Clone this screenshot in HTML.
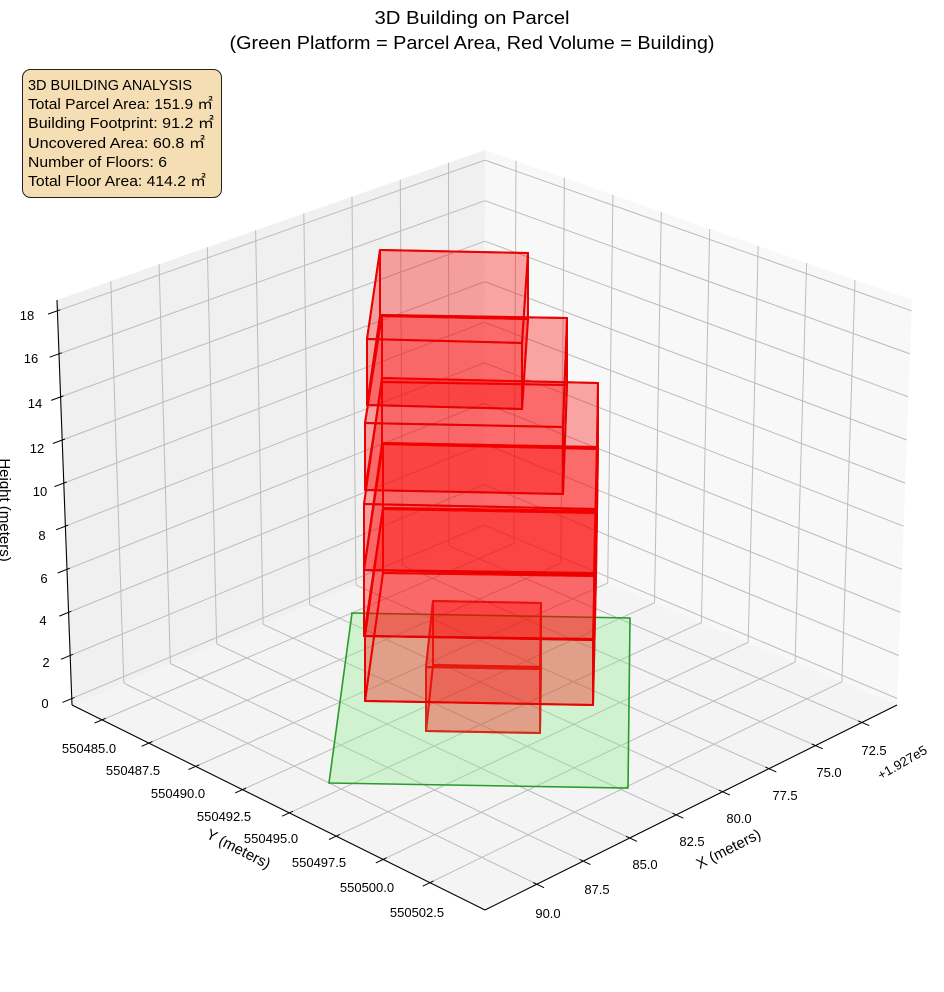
<!DOCTYPE html>
<html><head><meta charset="utf-8">
<style>
html,body{margin:0;padding:0;background:#fff;}
svg{display:block;font-family:"Liberation Sans","Noto Sans CJK JP",sans-serif;}
</style></head>
<body>
<svg id="s" width="944" height="992" viewBox="0 0 944 992" xmlns="http://www.w3.org/2000/svg">
<rect width="944" height="992" fill="#fff"/>
<g id="g"></g>
<text x="472" y="24" font-size="18" text-anchor="middle" textLength="195" lengthAdjust="spacingAndGlyphs" fill="#000">3D Building on Parcel</text>
<text x="472" y="49" font-size="18" text-anchor="middle" textLength="485" lengthAdjust="spacingAndGlyphs" fill="#000">(Green Platform = Parcel Area, Red Volume = Building)</text>
<rect x="22.5" y="69.5" width="199" height="128" rx="8" fill="#f5deb3" stroke="#222" stroke-width="1"/>
<g font-size="14.5" fill="#000">
<text x="28" y="90" textLength="164" lengthAdjust="spacingAndGlyphs">3D BUILDING ANALYSIS</text>
<text x="28" y="109" textLength="185" lengthAdjust="spacingAndGlyphs">Total Parcel Area: 151.9 ㎡</text>
<text x="28" y="128" textLength="186" lengthAdjust="spacingAndGlyphs">Building Footprint: 91.2 ㎡</text>
<text x="28" y="148" textLength="177" lengthAdjust="spacingAndGlyphs">Uncovered Area: 60.8 ㎡</text>
<text x="28" y="167" textLength="139" lengthAdjust="spacingAndGlyphs">Number of Floors: 6</text>
<text x="28" y="186" textLength="178" lengthAdjust="spacingAndGlyphs">Total Floor Area: 414.2 ㎡</text>
</g>
</svg>
<script>
(function(){
var NS="http://www.w3.org/2000/svg",g=document.getElementById("g");
function el(t,a,txt){var e=document.createElementNS(NS,t);for(var k in a)e.setAttribute(k,a[k]);if(txt!=null)e.textContent=txt;g.appendChild(e);return e;}
var Xmin=70.61,Xmax=92.79,Ymin=483.4,Ymax=505.44,Zmin=-0.3,Zmax=18.5;
var F={p00:[484,531],p10:[72,705],p11:[485,910],p01:[897,705]};
var T={p00:[485,150],p10:[57,300],p11:[485,475],p01:[912,300]};
function bil(Q,u,v){var x=(1-u)*(1-v)*Q.p00[0]+u*(1-v)*Q.p10[0]+u*v*Q.p11[0]+(1-u)*v*Q.p01[0];
var y=(1-u)*(1-v)*Q.p00[1]+u*(1-v)*Q.p10[1]+u*v*Q.p11[1]+(1-u)*v*Q.p01[1];return [x,y];}
function P(x,y,z){var u=(x-Xmin)/(Xmax-Xmin),v=(y-Ymin)/(Ymax-Ymin),w=(z-Zmin)/(Zmax-Zmin);
var b=bil(F,u,v),t=bil(T,u,v);return [b[0]+(t[0]-b[0])*w,b[1]+(t[1]-b[1])*w];}
function pts(a){return a.map(function(p){return p[0].toFixed(1)+","+p[1].toFixed(1)}).join(" ");}
el("polygon",{points:pts([P(Xmax,Ymin,Zmax),P(Xmin,Ymin,Zmax),P(Xmin,Ymin,Zmin),P(Xmax,Ymin,Zmin)]),fill:"#f0f0f0"});
el("polygon",{points:pts([P(Xmin,Ymin,Zmax),P(Xmin,Ymax,Zmax),P(Xmin,Ymax,Zmin),P(Xmin,Ymin,Zmin)]),fill:"#f8f8f8"});
el("polygon",{points:pts([P(Xmin,Ymin,Zmin),P(Xmax,Ymin,Zmin),P(Xmax,Ymax,Zmin),P(Xmin,Ymax,Zmin)]),fill:"#f4f4f4"});
var xt=[72.5,75,77.5,80,82.5,85,87.5,90],yt=[485,487.5,490,492.5,495,497.5,500,502.5],zt=[0,2,4,6,8,10,12,14,16,18];
function ln(a,b,st,w){el("line",{x1:a[0].toFixed(1),y1:a[1].toFixed(1),x2:b[0].toFixed(1),y2:b[1].toFixed(1),stroke:st,"stroke-width":w});}
var gc="#bcbcbc";
xt.forEach(function(x){ln(P(x,Ymin,Zmin),P(x,Ymin,Zmax),gc,1);ln(P(x,Ymin,Zmin),P(x,Ymax,Zmin),gc,1);});
yt.forEach(function(y){ln(P(Xmin,y,Zmin),P(Xmin,y,Zmax),gc,1);ln(P(Xmin,y,Zmin),P(Xmax,y,Zmin),gc,1);});
zt.forEach(function(z){ln(P(Xmin,Ymin,z),P(Xmax,Ymin,z),gc,1);ln(P(Xmin,Ymin,z),P(Xmin,Ymax,z),gc,1);});
ln(P(Xmax,Ymin,Zmin),P(Xmax,Ymax,Zmin),"#000",1.1);
ln(P(Xmin,Ymax,Zmin),P(Xmax,Ymax,Zmin),"#000",1.1);
ln(P(Xmax,Ymin,Zmin),P(Xmax,Ymin,Zmax),"#000",1.1);
function nrm(a,b){var dx=b[0]-a[0],dy=b[1]-a[1],l=Math.sqrt(dx*dx+dy*dy);return [dx/l,dy/l];}
function tick(p,d,i,o){ln([p[0]-d[0]*i,p[1]-d[1]*i],[p[0]+d[0]*o,p[1]+d[1]*o],"#000",1);}
zt.forEach(function(z){var p=P(Xmax,Ymin,z);tick(p,nrm(P(Xmin,Ymin,z),p),3,10);});
xt.forEach(function(x){var p=P(x,Ymax,Zmin);tick(p,nrm(P(x,Ymin,Zmin),p),4,8);});
yt.forEach(function(y){var p=P(Xmax,y,Zmin);tick(p,nrm(P(Xmin,y,Zmin),p),4,8);});
el("polygon",{points:"352,613 630,618 628,788 329,783",fill:"rgba(144,238,144,0.35)",stroke:"#2a9a2a","stroke-width":1.6});
var boxes=[
 [[433,601],[541,603],[540,669],[426,667],64],
 [[383,508],[596,511],[593,640],[365,636],65],
 [[383,443],[597,447],[594,573],[364,570],66],
 [[382,378],[598,383],[596,509],[364,504],66],
 [[382,315],[567,318],[563,427],[365,423],67],
 [[380,250],[528,253],[522,343],[367,339],66]
];
boxes.forEach(function(b,i){
 var h=b[4],t=[b[0],b[1],b[2],b[3]],d=t.map(function(p){return [p[0],p[1]+h]});
 var st=i==0?"#d42a1a":"#e80000";
 var faces=[d,[t[0],t[1],d[1],d[0]],[t[0],t[3],d[3],d[0]],[t[1],t[2],d[2],d[1]],[t[3],t[2],d[2],d[3]],t];
 faces.forEach(function(f){el("polygon",{points:pts(f),fill:"rgba(255,0,0,0.19)",stroke:st,"stroke-width":2,"stroke-linejoin":"round","stroke-opacity":0.9});});
});
var fs=13;
var zl=[[18,27,315],[16,31,358],[14,35,403],[12,37,448],[10,40,491],[8,42,535],[6,44,578],[4,43,620],[2,46,662],[0,45,703]];
zl.forEach(function(a){el("text",{x:a[1],y:a[2]+5,"font-size":fs,"text-anchor":"middle",fill:"#000"},String(a[0]));});
var xl=[["72.5",874,750],["75.0",829,772],["77.5",785,795],["80.0",739,818],["82.5",692,841],["85.0",645,864],["87.5",597,889],["90.0",548,913]];
xl.forEach(function(a){el("text",{x:a[1],y:a[2]+5,"font-size":fs,"text-anchor":"middle",fill:"#000"},a[0]);});
var yl=[["550485.0",89,748],["550487.5",133,770],["550490.0",178,793],["550492.5",224,816],["550495.0",271,838],["550497.5",319,862],["550500.0",367,887],["550502.5",417,912]];
yl.forEach(function(a){el("text",{x:a[1],y:a[2]+5,"font-size":fs,"text-anchor":"middle",fill:"#000"},a[0]);});
el("text",{x:902,y:767,"font-size":fs,"text-anchor":"middle",fill:"#000",transform:"rotate(-30 902 762)"},"+1.927e5");
el("text",{x:728,y:854,"font-size":15,"text-anchor":"middle",fill:"#000",transform:"rotate(-27 728 848)"},"X (meters)");
el("text",{x:239,y:854,"font-size":15,"text-anchor":"middle",fill:"#000",transform:"rotate(27 239 848)"},"Y (meters)");
el("text",{x:0,y:510,"font-size":15,"text-anchor":"middle",fill:"#000",transform:"rotate(90 0 510)"},"Height (meters)");
})();
</script>
</body></html>
